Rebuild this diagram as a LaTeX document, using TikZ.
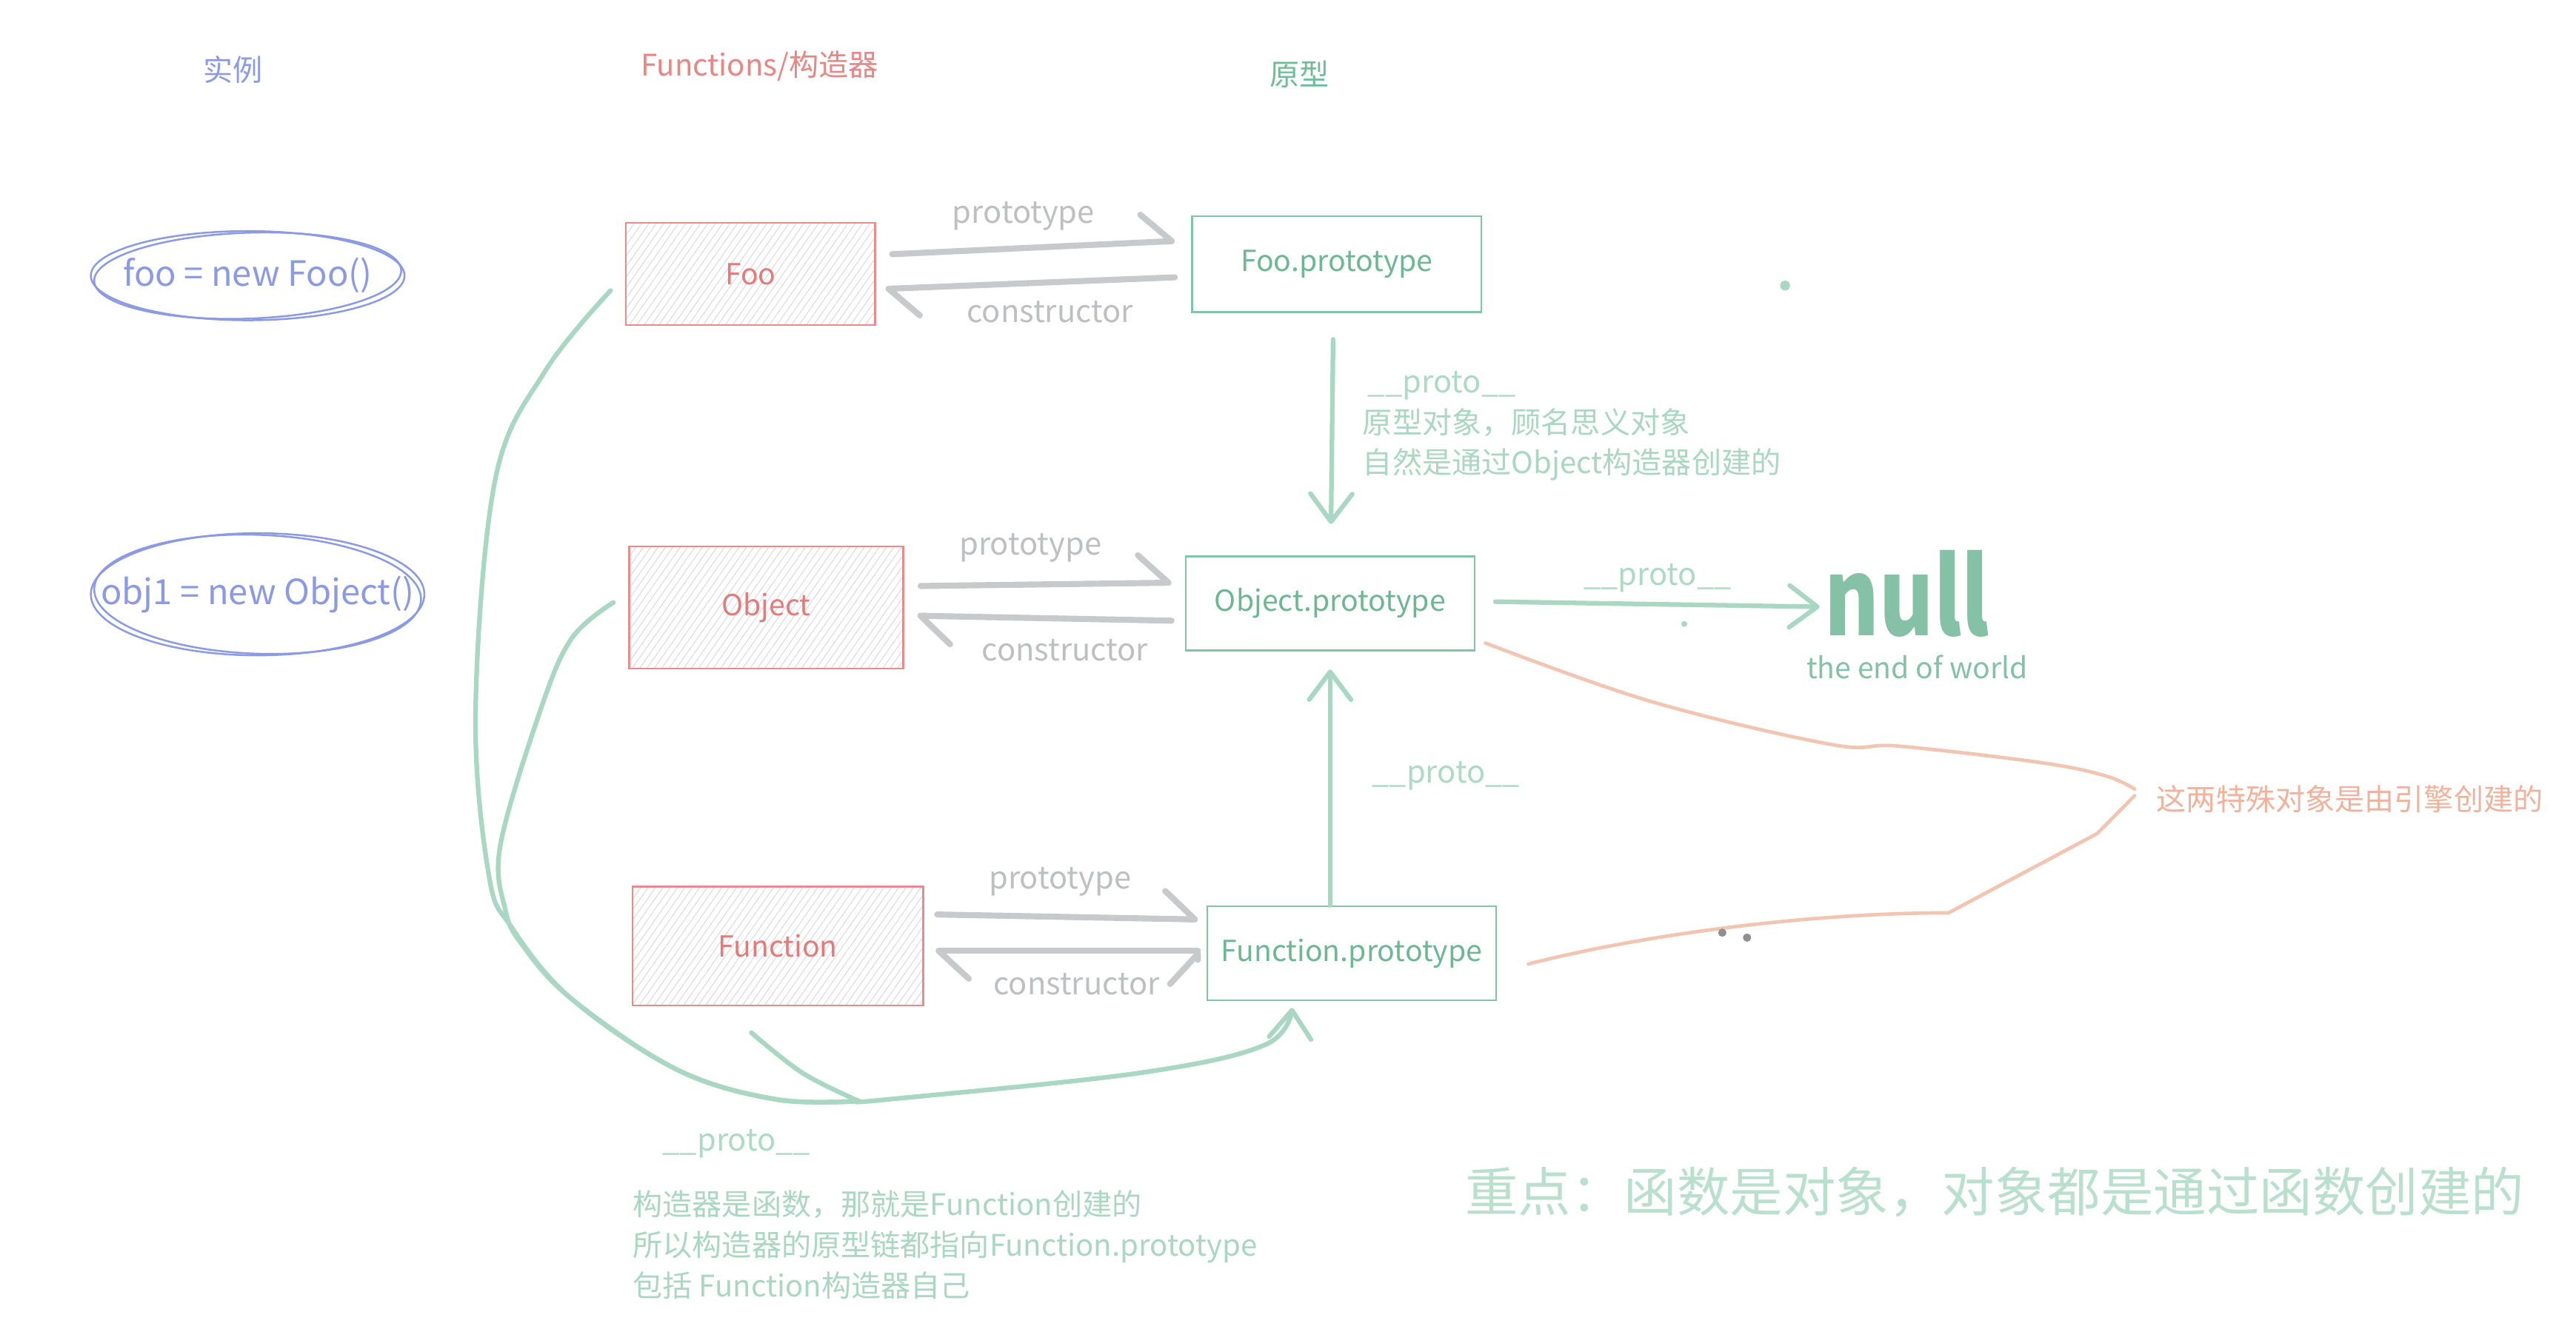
\documentclass[tikz,border=0pt]{standalone}
\usepackage{fontspec}
\setmainfont{Noto Sans CJK SC}
\usetikzlibrary{arrows.meta,patterns.meta}

\newlength\px
\setlength\px{0.025cm}

\definecolor{instc}{HTML}{8C9AE3}
\definecolor{ctorline}{HTML}{E98B8B}
\definecolor{ctortext}{HTML}{E37B7B}
\definecolor{ctorhead}{HTML}{E88585}
\definecolor{hatch}{HTML}{DCDCDC}
\definecolor{protoline}{HTML}{80C5A7}
\definecolor{prototext}{HTML}{6DB794}
\definecolor{protohead}{HTML}{6DBE98}
\definecolor{linkgray}{HTML}{C8C9CB}
\definecolor{labelgray}{HTML}{BEBFC1}
\definecolor{protoarrow}{HTML}{A9D7C3}
\definecolor{plabelc}{HTML}{ADDAC7}
\definecolor{notec}{HTML}{A9D7C3}
\definecolor{nullc}{HTML}{84C1A6}
\definecolor{keyc}{HTML}{B9DFCF}
\definecolor{engineline}{HTML}{F2C4B2}
\definecolor{enginetext}{HTML}{F1B29C}
\definecolor{dotgray}{HTML}{8F8F8F}

\newcommand\hdfont{\fontsize{12.8pt}{15pt}\selectfont}
\newcommand\lblfont{\fontsize{12.5pt}{15pt}\selectfont}
\newcommand\ptrfont{\fontsize{13.3pt}{16pt}\selectfont}
\newcommand\insfont{\fontsize{15pt}{18pt}\selectfont}
\newcommand\ntfont{\fontsize{12.8pt}{17.4pt}\selectfont}
\newcommand\kyfont{\fontsize{22.8pt}{27pt}\selectfont}
\newcommand\eowfont{\fontsize{12.5pt}{15pt}\selectfont}
\newcommand\nullsize{\fontsize{46pt}{52pt}\selectfont\bfseries}

\begin{document}
\begin{tikzpicture}[x=0.025cm,y=-0.025cm,>={Straight Barb[length=12pt,width=18pt,round]},
  ctorbox/.style={draw=ctorline,line width=0.8pt,pattern={Lines[angle=55,distance=2.6pt,line width=0.35pt]},pattern color=hatch,text=ctortext,font=\lblfont,inner sep=0pt},
  protobox/.style={draw=protoline,line width=0.8pt,fill=white,text=prototext,font=\lblfont,inner sep=0pt},
  headlabel/.style={font=\hdfont,inner sep=0pt},
  ptr/.style={draw=linkgray,line width=2.6pt,line cap=round,-{Straight Barb[harpoon,length=13pt,width=24pt,round]}},
  ptrlabel/.style={text=labelgray,font=\ptrfont,inner sep=0pt},
  protolink/.style={draw=protoarrow,line width=2pt,line cap=round,line join=round},
  protolabel/.style={text=plabelc,font=\ptrfont,inner sep=0pt},
  notetext/.style={text=notec,font=\ntfont,align=left,inner sep=0pt},
  engine/.style={draw=engineline,line width=1.5pt,line cap=round,line join=round},
  instline/.style={draw=instc,line width=0.8pt}]

  \useasboundingbox (0,0) rectangle (1560,805);
  \fill[white] (0,0) rectangle (1560,805);

  % column titles
  \node[headlabel,text=instc]     (hinst)  at (141,42) {实例};
  \node[headlabel,text=ctorhead]  (hctor)  at (460,40) {Functions/构造器};
  \node[headlabel,text=protohead] (hproto) at (787,45) {原型};

  % instances
  \node[text=instc,font=\insfont,inner sep=0pt] (fooi) at (150,167) {foo = new Foo()};
  \node[text=instc,font=\insfont,inner sep=0pt] (obji) at (156,360) {obj1 = new Object()};
  \draw[instline] (fooi) ellipse [x radius=95,y radius=27];
  \draw[instline,rotate around={2:(fooi)}] (fooi) ellipse [x radius=93,y radius=26];
  \draw[instline] (obji) ellipse [x radius=101,y radius=37];
  \draw[instline,rotate around={-2:(obji)}] (obji) ellipse [x radius=99,y radius=36];

  % constructors
  \node[ctorbox,minimum width=151\px,minimum height=62\px] (foo) at (454.5,166) {Foo};
  \node[ctorbox,minimum width=166\px,minimum height=74\px] (obj) at (464,368)   {Object};
  \node[ctorbox,minimum width=176\px,minimum height=72\px] (fun) at (471,573)   {Function};

  % prototypes
  \node[protobox,minimum width=175\px,minimum height=58\px] (foop) at (809.5,160)   {Foo.prototype};
  \node[protobox,minimum width=175\px,minimum height=57\px] (objp) at (805.5,365.5) {Object.prototype};
  \node[protobox,minimum width=175\px,minimum height=57\px] (funp) at (818.5,577.5) {Function.prototype};

  \node[text=nullc,font=\nullsize,inner sep=0pt,anchor=base,xscale=.78,transform shape] (null) at (1155,385) {null};
  \node[text=nullc,font=\eowfont,inner sep=0pt] (eow) at (1161,404) {the end of world};

  % prototype / constructor
  \path[ptr]
    ([xshift=10\px,yshift=12\px]foo.east) edge node[ptrlabel,xshift=-6\px,yshift=19\px] {prototype} ([xshift=-10\px,yshift=14\px]foop.west)
    ([xshift=-10\px,yshift=-8\px]foop.west) edge node[ptrlabel,xshift=12\px,yshift=-17.5\px] {constructor} ([xshift=6\px,yshift=-9\px]foo.east)
    ([xshift=10\px,yshift=13\px]obj.east) edge node[ptrlabel,xshift=-9.5\px,yshift=22\px] {prototype} ([xshift=-8\px,yshift=12.5\px]objp.west)
    ([xshift=-8\px,yshift=-10.5\px]objp.west) edge node[ptrlabel,xshift=12.5\px,yshift=-19.5\px] {constructor} ([xshift=8\px,yshift=-5\px]obj.east)
    ([xshift=8\px,yshift=19\px]fun.east) edge node[ptrlabel,xshift=-4.5\px,yshift=21.5\px] {prototype} ([xshift=-5\px,yshift=20.5\px]funp.west)
    ([xshift=-5\px,yshift=1.5\px]funp.west) edge node[ptrlabel,xshift=6\px,yshift=-20\px] {constructor} ([xshift=7\px,yshift=-3\px]fun.east);

  % __proto__ chain
  \draw[protolink,->,shorten <=16\px,shorten >=19\px] ([xshift=-2\px]foop.south) -- (objp)
    node[protolabel,pos=.3,anchor=west,xshift=20\px] {\_\_proto\_\_};
  \node[notetext,anchor=north west] (note1) at (825,247) {原型对象，顾名思义对象\\自然是通过Object构造器创建的};
  \draw[protolink,->] ([xshift=-13\px]funp.north) -- ([yshift=-11\px]objp.south)
    node[protolabel,pos=.55,anchor=west,xshift=24\px] {\_\_proto\_\_};
  \draw[protolink,->] ([xshift=12\px,yshift=1\px]objp.east) -- ([xshift=-3\px,yshift=-8\px]null.west)
    node[protolabel,midway,yshift=16\px] {\_\_proto\_\_};

  \coordinate (join) at (520,667);
  \draw[protolink] plot[smooth,tension=.6] coordinates {([xshift=-9\px,yshift=-10\px]foo.west) (330,225) (300,290) (288,430) (296,530) (310,562) (346,605) (410,648) (470,666) (join)};
  \draw[protolink] plot[smooth,tension=.6] coordinates {([xshift=-9\px,yshift=3\px]obj.west) (346,387) (327,431) (303,512) (306,551) (316,572) (346,605) (410,648) (470,666) (join)};
  \draw[protolink] plot[smooth,tension=.6] coordinates {([xshift=-16\px,yshift=-16\px]fun.south) (486,650) (join)};
  \draw[protolink,->] plot[smooth,tension=.6] coordinates {(join) (538,666) (690,650) (766,633) ([xshift=-36\px,yshift=-4\px]funp.south)};
  \node[protolabel] (plab) at (446,693) {\_\_proto\_\_};
  \node[notetext,anchor=north west] (note2) at (383,721) {构造器是函数，那就是Function创建的\\所以构造器的原型链都指向Function.prototype\\包括 Function构造器自己};

  % made by the engine
  \node[text=enginetext,font=\hdfont,inner sep=0pt] (engine) at (1423,484) {这两特殊对象是由引擎创建的};
  \draw[engine] plot[smooth,tension=.6] coordinates {([xshift=6\px,yshift=5\px]objp.south east) (1000,425) (1109,451) (1150,452) (1236,462) (1275,470) ([xshift=-13\px,yshift=6\px]engine.west)};
  \draw[engine] ([xshift=19\px,yshift=-6.5\px]funp.east) .. controls (1000,565) and (1100,553) .. (1180,553) -- (1270,505) -- ([xshift=-13\px,yshift=2\px]engine.west);

  % stray marks
  \fill[protoarrow] (1081,173) circle (3);
  \fill[protoarrow] (1020,378) circle (1.8);
  \fill[dotgray] (1043,565) circle (2.5);
  \fill[dotgray] (1058,568) circle (2.5);

  \node[text=keyc,font=\kyfont,inner sep=0pt] (key) at (1208,722) {重点：函数是对象，对象都是通过函数创建的};
\end{tikzpicture}
\end{document}
